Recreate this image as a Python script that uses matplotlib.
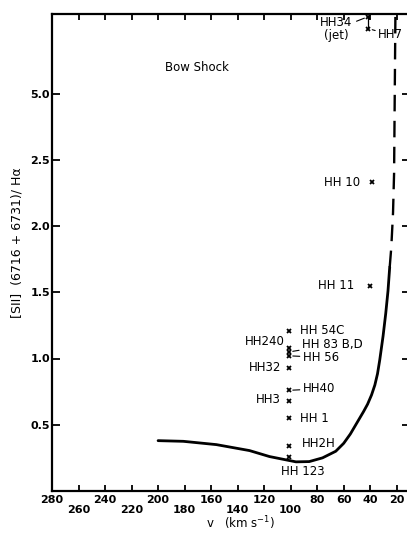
import numpy as np
import matplotlib
matplotlib.use("Agg")
import matplotlib.pyplot as plt

# bow shock model curve (solid part, then dashed continuation)
curve_v = [200, 181, 156, 131, 116, 106, 96, 86, 76, 66, 60, 55, 50, 45, 42, 39, 36.5, 34.5, 32.8,
           30.3, 28.3, 26.6, 25.3]
curve_r = [0.38, 0.375, 0.35, 0.305, 0.26, 0.24, 0.22, 0.222, 0.25, 0.30, 0.36, 0.43, 0.515, 0.60,
           0.655, 0.725, 0.80, 0.885, 0.99, 1.17, 1.34, 1.51, 1.69]
dash_v = [25.3, 24.1, 22.8, 22.0, 21.5, 21.0]
dash_r = [1.69, 1.84, 2.10, 2.40, 5.0, 8.0]

# observed objects
obj_names = ["HH 54C", "HH240", "HH 83 B,D", "HH 56", "HH32", "HH40", "HH3", "HH 1",
             "HH2H", "HH 123", "HH 11", "HH 10"]
obj_v = [101, 101, 101, 101, 101, 101, 101, 101, 101, 101, 40, 39]
obj_r = [1.21, 1.08, 1.05, 1.02, 0.93, 0.76, 0.68, 0.55, 0.34, 0.26, 1.55, 2.33]

jet_names = ["HH34\n(jet)", "HH7"]
jet_v = [41.5, 41.5]
jet_r = [7.9, 7.45]

yticks = [0.5, 1.0, 1.5, 2.0, 2.5, 5.0]
xticks = [280, 260, 240, 220, 200, 180, 160, 140, 120, 100, 80, 60, 40, 20]
xlow = [260, 220, 180, 140, 100]   # labels on the second row


def fwd(v):
    v = np.asarray(v, dtype=float)
    return np.where(v <= 2.5, v / 0.5, 5 + (v - 2.5) / 2.5)


def inv(p):
    p = np.asarray(p, dtype=float)
    return np.where(p <= 5, p * 0.5, 2.5 + (p - 5) * 2.5)


plt.rcParams['font.family'] = ['DejaVu Sans']

fig = plt.figure(figsize=(4.07, 5.33), dpi=100)
ax = fig.add_axes([52 / 407, 42 / 533, 358 / 407, 477 / 533])
ax.set_yscale('function', functions=(fwd, inv))
ax.set_xlim(280, 10)
ax.set_ylim(0, 8.0)

ax.plot(curve_v, curve_r, color='black', lw=2.0, solid_capstyle='round', solid_joinstyle='round')
ax.plot(dash_v, dash_r, color='black', lw=1.7, dashes=(7, 4), clip_on=False)

ax.plot(obj_v, obj_r, 'x', color='black', ms=3.5, mew=1.3)
ax.plot(jet_v, jet_r, 'x', color='black', ms=3.5, mew=1.3, clip_on=False)
ax.plot(jet_v, jet_r, color='black', lw=0.9, clip_on=False)

# label offsets in points (text placement relative to the markers)
offsets = {
    "HH 54C": ((8, 0), 'left', None),
    "HH240": ((-3, 4.5), 'right', None),
    "HH 83 B,D": ((9, 5), 'left', '-'),
    "HH 56": ((9.5, -1), 'left', '-'),
    "HH32": ((-6, 0), 'right', None),
    "HH40": ((9.5, 1), 'left', '-'),
    "HH3": ((-6, 1), 'right', None),
    "HH 1": ((8, 0), 'left', None),
    "HH2H": ((9, 2), 'left', None),
    "HH 123": ((10, -11), 'center', None),
    "HH 11": ((-11.5, 0), 'right', None),
    "HH 10": ((-8.5, 0), 'right', None),
}
for name, v, r in zip(obj_names, obj_v, obj_r):
    off, ha, arrow = offsets[name]
    kw = {}
    if arrow:
        kw['arrowprops'] = dict(arrowstyle='-', lw=0.8, color='black', shrinkA=0, shrinkB=2.5)
    ax.annotate(name, xy=(v, r), xytext=off, textcoords='offset points',
                ha=ha, va='center', fontsize=8.5, fontweight='medium', **kw)

ax.annotate(jet_names[0], xy=(jet_v[0], jet_r[0]), xytext=(-23, -9), textcoords='offset points',
            ha='center', va='center', fontsize=8.5, linespacing=0.95, annotation_clip=False,
            arrowprops=dict(arrowstyle='-', lw=0.8, color='black', shrinkA=1, shrinkB=3))
ax.annotate(jet_names[1], xy=(jet_v[1], jet_r[1]), xytext=(7, -4.5), textcoords='offset points',
            ha='left', va='center', fontsize=8.5, annotation_clip=False,
            arrowprops=dict(arrowstyle='-', lw=0.8, color='black', shrinkA=0, shrinkB=3))

ax.text(0.316, 0.887, "Bow Shock", transform=ax.transAxes, ha='left', va='center', fontsize=8.5)

ax.set_yticks(yticks)
ax.set_yticklabels(["%.1f" % t for t in yticks], fontsize=8, fontweight='bold')
ax.set_xticks(xticks)
ax.set_xticklabels([("\n%d" % t) if t in xlow else str(t) for t in xticks],
                   fontsize=8, fontweight='bold', linespacing=1.0)
ax.minorticks_off()
ax.tick_params(axis='both', direction='in', top=True, right=True, width=1.3)
ax.tick_params(axis='y', length=6, pad=1.5)
ax.tick_params(axis='x', length=4, pad=3)

for s in ax.spines.values():
    s.set_linewidth(1.6)

ax.set_xlabel("v   (km s$^{-1}$)", fontsize=8.5, va='center')
ax.xaxis.set_label_coords(0.528, -0.067)
ax.set_ylabel("[SII]  (6716 + 6731)/ Hα", fontsize=9, va='center')
ax.yaxis.set_label_coords(-0.098, 0.52)

fig.savefig("out.png", dpi=100)
